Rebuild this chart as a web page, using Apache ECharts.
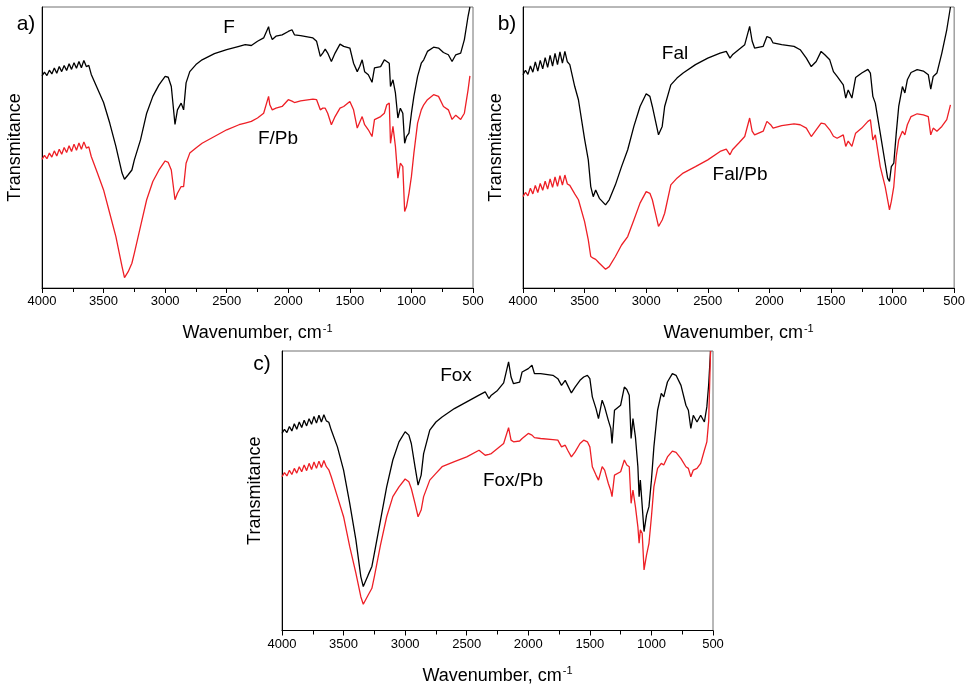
<!DOCTYPE html>
<html>
<head>
<meta charset="utf-8">
<title>FTIR spectra</title>
<script src="https://cdn.jsdelivr.net/npm/echarts@6/dist/echarts.min.js"></script>
<style>
  html, body { margin: 0; padding: 0; background: #fff; }
  #chart { width: 968px; height: 686px; }
</style>
</head>
<body>
<div id="chart"></div>
<script>
// wavenumbers (cm-1)
const waveA = [4000, 3980, 3960, 3940, 3920, 3900, 3880, 3860, 3840, 3820, 3800, 3780, 3760, 3740, 3720, 3700, 3680, 3660, 3640, 3620, 3600, 3550, 3500, 3450, 3400, 3350, 3330, 3300, 3270, 3250, 3200, 3150, 3100, 3050, 3000, 2975, 2950, 2920, 2900, 2870, 2850, 2830, 2800, 2750, 2700, 2600, 2500, 2400, 2350, 2300, 2250, 2200, 2160, 2150, 2130, 2100, 2050, 2000, 1970, 1950, 1900, 1800, 1770, 1740, 1720, 1700, 1680, 1650, 1620, 1580, 1550, 1500, 1470, 1440, 1420, 1400, 1380, 1350, 1320, 1300, 1250, 1220, 1200, 1180, 1170, 1150, 1130, 1110, 1090, 1070, 1055, 1040, 1020, 1000, 980, 950, 920, 900, 870, 820, 780, 740, 700, 670, 640, 600, 570, 540, 525]
const fVals = [75.5, 76.8, 75.6, 77.5, 76.2, 78.3, 76.4, 78.8, 77, 79.2, 77.4, 79.8, 77.8, 80.2, 78.2, 80.6, 78.4, 81, 78.8, 79.2, 76, 71, 66, 58.7, 50.4, 40.9, 38.7, 40.3, 42, 45.6, 52.7, 62.2, 68.2, 72.3, 75.3, 75, 71.7, 58.2, 63.4, 65.8, 63.4, 73, 77, 79.5, 81.2, 83.4, 84.8, 86, 86.6, 86.3, 87.8, 89, 93, 90.7, 88.4, 89.6, 90.1, 91.3, 91.9, 90.1, 89.8, 89, 87.8, 82.4, 83.6, 85, 83.6, 80.6, 83.6, 86.8, 86, 85.4, 80, 77, 78.8, 81.2, 77, 75.9, 73.2, 78.3, 78.8, 81.2, 80.6, 80, 71.7, 74.1, 69.4, 60.5, 64, 62.2, 51.5, 53.9, 55.1, 62.2, 68.2, 75.3, 80, 81.2, 84.2, 85.7, 85.4, 83.8, 83, 80.6, 83, 83.6, 88.4, 96.7, 100]
const fPbVals = [45.8, 47.2, 46, 48, 46.6, 48.8, 47, 49.4, 47.6, 50, 48.2, 50.6, 48.6, 51.2, 49, 51.6, 49.4, 52, 49.8, 50.2, 46.8, 40.9, 34.9, 26.6, 18.3, 7.6, 3.7, 5.8, 8.8, 12.4, 21.9, 31.4, 37.9, 42, 45.2, 44.7, 42, 31.4, 33.7, 36.1, 36.1, 44.4, 48, 49.8, 51.5, 53.9, 56.3, 58.1, 58.7, 59.3, 60.5, 62.2, 68.2, 65.2, 63.4, 64, 64.6, 67, 66.5, 66, 66.6, 67.2, 67, 63.4, 64, 64, 62.2, 58.1, 61, 64, 64.6, 66.4, 63.4, 56.9, 59, 61, 58.1, 56.3, 53.9, 59.9, 61, 62.2, 65.2, 65.8, 51.5, 57.5, 50.4, 39.1, 44.4, 43.2, 27.2, 29, 33.7, 39.7, 48, 58.7, 63.4, 65.2, 67, 68.8, 68.2, 64.6, 63.4, 60, 61.5, 60, 62.2, 70.5, 75.5]

const waveB = [4000, 3980, 3960, 3940, 3920, 3900, 3880, 3860, 3840, 3820, 3800, 3780, 3760, 3740, 3720, 3700, 3680, 3660, 3640, 3620, 3580, 3550, 3500, 3470, 3450, 3430, 3410, 3380, 3330, 3300, 3250, 3200, 3150, 3100, 3050, 3000, 2970, 2950, 2900, 2870, 2850, 2800, 2750, 2700, 2600, 2500, 2400, 2350, 2320, 2300, 2250, 2200, 2160, 2140, 2120, 2050, 2020, 1990, 1970, 1900, 1800, 1750, 1700, 1660, 1620, 1580, 1550, 1510, 1480, 1450, 1400, 1380, 1360, 1330, 1300, 1250, 1200, 1180, 1160, 1140, 1100, 1060, 1040, 1025, 1010, 990, 970, 950, 920, 900, 880, 850, 800, 750, 710, 690, 670, 640, 600, 560, 530]
const falVals = [75.9, 77.5, 76, 79, 76.8, 80.5, 77.2, 81, 78, 82, 78.5, 82.8, 79, 83.5, 79.5, 84, 80, 84.2, 80.5, 79.5, 71.7, 67, 53, 45.6, 36.1, 32.5, 34.9, 31.9, 29.6, 31.4, 36.7, 43.2, 49.2, 57.5, 64.6, 69.1, 68.2, 64.6, 54.5, 57.5, 64.6, 72.3, 74.7, 76.5, 79.5, 81.8, 83.6, 84.2, 81.8, 83, 84.8, 86.6, 93.1, 87.9, 85.4, 86, 89.5, 88.9, 87.2, 86.6, 86, 84.8, 81.8, 78.8, 80.6, 84.2, 83, 81.2, 77, 75.3, 72.3, 67.6, 70.5, 67.6, 74.9, 76.5, 77.8, 76.5, 68.2, 65.8, 55.1, 44.4, 39.1, 37.9, 43.2, 44.4, 55.1, 64.6, 71.7, 69.4, 74.1, 76.7, 77.7, 77.2, 75.9, 70.8, 75.3, 76.5, 83.6, 91.9, 100]
const falPbVals = [32.5, 34, 32.8, 35.5, 33.5, 36.5, 34, 37.2, 34.8, 38, 35.2, 38.8, 35.8, 39.5, 36.2, 40, 36.6, 40.2, 37, 36.5, 33.5, 31.4, 23.6, 17.1, 11.2, 10.6, 10.2, 8.8, 6.7, 7.6, 11.2, 15.3, 18.3, 24.2, 30.2, 34.3, 33.7, 31.4, 21.9, 24.2, 26.6, 36.7, 39.1, 40.9, 43.2, 45.6, 48.6, 49.4, 47.4, 49.2, 51.5, 53.9, 60.5, 55.8, 54.5, 55.8, 59.3, 58.1, 56.9, 57.8, 58.4, 58.1, 56.9, 53.9, 56.3, 58.7, 58.4, 56.3, 54, 53.3, 54.5, 50.4, 52.3, 50.4, 55.1, 56.9, 59.3, 59.9, 52.7, 54.5, 43.2, 36.1, 31.4, 27.8, 30.8, 36.1, 46.8, 52.7, 55.8, 54.5, 58.1, 61, 62, 61.6, 61, 54.5, 56.9, 55.8, 57.5, 59.9, 65.2]

const waveC = [4000, 3980, 3960, 3940, 3920, 3900, 3880, 3860, 3840, 3820, 3800, 3780, 3760, 3740, 3720, 3700, 3680, 3660, 3640, 3620, 3600, 3550, 3500, 3450, 3400, 3360, 3340, 3300, 3270, 3250, 3200, 3150, 3100, 3050, 3000, 2970, 2950, 2920, 2895, 2870, 2850, 2800, 2750, 2700, 2600, 2500, 2400, 2350, 2320, 2300, 2250, 2200, 2160, 2140, 2120, 2070, 2050, 2000, 1970, 1950, 1900, 1800, 1760, 1730, 1700, 1680, 1650, 1620, 1580, 1550, 1520, 1500, 1480, 1450, 1430, 1400, 1380, 1350, 1330, 1320, 1300, 1250, 1220, 1200, 1180, 1165, 1150, 1130, 1110, 1100, 1090, 1075, 1060, 1040, 1020, 1000, 980, 950, 920, 900, 870, 830, 800, 760, 720, 700, 680, 660, 630, 600, 570, 550, 535, 520]
const foxVals = [70.5, 72, 70.8, 73, 71.4, 74, 72, 74.6, 72.6, 75.2, 73.2, 75.8, 73.8, 76.6, 74.2, 77, 74.6, 77.2, 75, 74.5, 71.7, 65.7, 57.4, 45.5, 32.4, 19.3, 15.7, 19.9, 22.9, 27.6, 39.5, 51.4, 61, 67.5, 71.1, 69.9, 66.9, 58.6, 52, 55.6, 63.3, 71.7, 74.6, 76.4, 79.4, 81.8, 84.2, 85.4, 83, 84.2, 85.9, 88.6, 96.1, 90.7, 88.3, 88.9, 92.5, 93.7, 94.9, 91.9, 91.9, 91.3, 90.1, 87.7, 89.5, 87.7, 85, 87.1, 89.5, 90.7, 91.3, 90.1, 83.6, 79.4, 75.8, 82.4, 80, 75.2, 72.3, 66.9, 78.8, 80.6, 87.1, 86.2, 84.2, 68.7, 75.8, 69.3, 58.6, 47.9, 53.8, 53.2, 35.4, 41.3, 44.3, 53.8, 65.7, 78.8, 84.8, 83.6, 88.9, 91.9, 91.3, 87.7, 80.6, 78.8, 72.3, 77, 74.6, 77, 74.6, 80, 88, 100]
const foxPbVals = [55, 56.5, 55.3, 57.3, 55.8, 58, 56.3, 58.6, 56.8, 59.2, 57.2, 59.8, 57.6, 60.3, 58, 60.6, 58.3, 60.8, 58.6, 57.5, 55, 47.9, 40.7, 30, 20.5, 12.1, 9.4, 12.7, 15.1, 19.3, 30.6, 40.7, 47.9, 51.4, 54.2, 53.2, 50.8, 45.5, 40.7, 43.1, 47.9, 53.8, 56.2, 58.6, 60.4, 62.1, 64.5, 62.7, 63, 63.3, 65.1, 66.9, 72.6, 68.1, 67.5, 67.8, 68.7, 70.5, 69.9, 69, 68.7, 68.3, 68.1, 65.7, 66.3, 64.5, 62.1, 63.9, 66.9, 68.1, 67.5, 65.7, 58.6, 55.6, 53.8, 58.6, 57.4, 52.6, 50, 47.9, 55.6, 56.8, 61, 59.2, 58.6, 45.5, 50.2, 44.3, 37.1, 31.2, 36, 34.8, 21.7, 27, 31.2, 40.7, 51.4, 58, 59.8, 59.2, 62.1, 64.2, 63.7, 61.5, 58.6, 58, 55, 57.4, 58, 59.8, 64.5, 67.5, 75, 100]

const xTicks = [4000, 3500, 3000, 2500, 2000, 1500, 1000, 500]

const FONT = 'Liberation Sans, Arial, sans-serif'
const BLACK = '#000000'
const RED = '#ee1f26'

function pairs(w, v) {
  return w.map((x, i) => [x, v[i]])
}

const grids = [
  { left: 42, top: 7, width: 431, height: 281 },
  { left: 523, top: 7, width: 432, height: 281 },
  { left: 282, top: 351, width: 431, height: 280 }
]

const xAxes = grids.map((g, i) => ({
  gridIndex: i,
  type: 'value',
  min: 500,
  max: 4000,
  interval: 500,
  inverse: true,
  name: '{t|Wavenumber, cm}{s|-1}',
  nameLocation: 'middle',
  nameGap: 35,
  nameTextStyle: {
    rich: {
      t: { fontSize: 18, fontFamily: FONT, color: BLACK },
      s: { fontSize: 11, fontFamily: FONT, color: BLACK, verticalAlign: 'top', padding: [0, 0, 10, 1] }
    }
  },
  axisLine: { onZero: false, lineStyle: { color: BLACK, width: 1 } },
  axisTick: { show: true, length: 5, lineStyle: { color: BLACK } },
  minorTick: { show: true, splitNumber: 2, length: 4, lineStyle: { color: BLACK } },
  splitLine: { show: false },
  minorSplitLine: { show: false },
  axisLabel: {
    color: BLACK,
    fontSize: 13,
    fontFamily: FONT,
    margin: 7,
    formatter: v => (xTicks.indexOf(v) >= 0 ? String(v) : '')
  }
}))

const yAxes = grids.map((g, i) => ({
  gridIndex: i,
  type: 'value',
  min: 0,
  max: 100,
  name: 'Transmitance',
  nameLocation: 'middle',
  nameGap: 18,
  nameTextStyle: { fontSize: 18, fontFamily: FONT, color: BLACK },
  axisLine: { show: true, lineStyle: { color: BLACK, width: 1 } },
  axisTick: { show: false },
  axisLabel: { show: false },
  splitLine: { show: false }
}))

function spectrum(name, w, v, idx, color) {
  return {
    name: name,
    type: 'line',
    xAxisIndex: idx,
    yAxisIndex: idx,
    data: pairs(w, v),
    showSymbol: false,
    smooth: false,
    lineStyle: { color: color, width: 1.3 },
    itemStyle: { color: color },
    emphasis: { disabled: true }
  }
}

// text labels on the panels
function label(text, x, y, size) {
  return {
    type: 'text',
    x: x,
    y: y,
    style: {
      text: text,
      fontSize: size,
      fontFamily: FONT,
      fill: BLACK,
      align: 'center',
      verticalAlign: 'middle'
    }
  }
}

const chart = echarts.init(document.getElementById('chart'))
chart.setOption({
  animation: false,
  backgroundColor: '#fff',
  grid: grids.map(g => Object.assign({ show: true, borderColor: '#707070', borderWidth: 1, backgroundColor: 'transparent' }, g)),
  xAxis: xAxes,
  yAxis: yAxes,
  series: [
    spectrum('F', waveA, fVals, 0, BLACK),
    spectrum('F/Pb', waveA, fPbVals, 0, RED),
    spectrum('Fal', waveB, falVals, 1, BLACK),
    spectrum('Fal/Pb', waveB, falPbVals, 1, RED),
    spectrum('Fox', waveC, foxVals, 2, BLACK),
    spectrum('Fox/Pb', waveC, foxPbVals, 2, RED)
  ],
  graphic: [
    label('a)', 26, 24, 21),
    label('b)', 507, 24, 21),
    label('c)', 262, 364, 21),
    label('F', 229, 28, 19),
    label('F/Pb', 278, 139, 19),
    label('Fal', 675, 54, 19),
    label('Fal/Pb', 740, 175, 19),
    label('Fox', 456, 376, 19),
    label('Fox/Pb', 513, 481, 19)
  ]
})
</script>
</body>
</html>
